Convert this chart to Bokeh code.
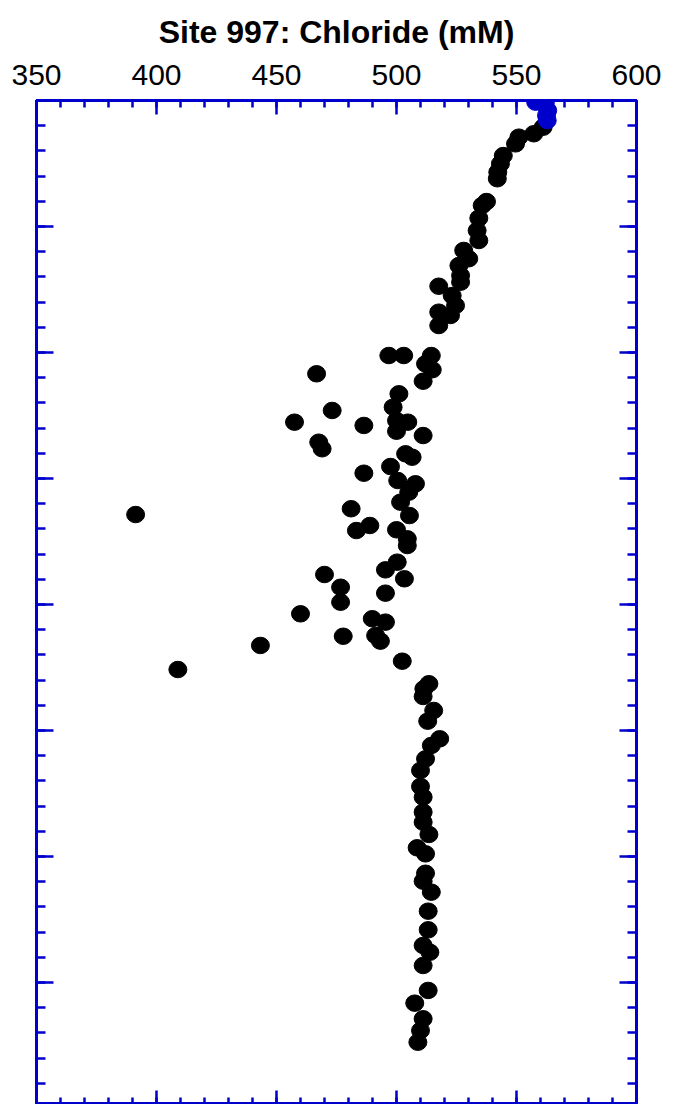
from bokeh.plotting import figure
from bokeh.models import (Range1d, LinearAxis, FixedTicker, CustomJSTickFormatter)
from bokeh.embed import file_html
from bokeh.resources import INLINE

# ---- data ----
title_text = "Site 997: Chloride (mM)"
x_ticks = [350, 400, 450, 500, 550, 600]
x_minor = list(range(350, 601, 10))
y_ticks = list(range(0, 801, 100))
y_minor = list(range(0, 801, 20))

# black points: chloride (mM) and depth (mbsf)
cl_black = [561.1, 557.2, 551.0, 549.6, 544.5, 543.3, 542.2, 542.0, 537.5, 535.7,
            534.3, 533.6, 534.3, 528.0, 530.1, 526.0, 526.7, 526.7, 517.6, 523.2,
            524.6, 517.6, 522.5, 517.6,
            496.8, 503.0, 514.5, 512.1, 514.9, 511.1, 466.7, 501.0, 498.6, 473.2,
            457.5, 486.4, 500.0, 504.7, 500.0, 511.1, 467.6, 469.0, 503.8, 506.5,
            497.5, 486.4, 500.5, 507.9, 505.1, 501.7, 505.4, 481.1, 483.3, 488.9,
            500.0, 504.5, 504.5, 500.3, 495.4, 503.3, 470.0, 476.7, 476.7, 495.4,
            460.0, 489.9, 495.4, 477.8, 491.3, 493.3, 443.3, 408.9, 502.4, 391.3,
            513.5, 511.4, 511.1, 515.5, 513.0, 518.0, 514.5, 512.1, 510.0, 510.0,
            511.1, 511.1, 511.1, 513.5, 508.6, 512.1, 512.1, 511.1, 514.5, 513.2,
            513.2, 511.1, 513.9, 511.1, 513.2, 507.6, 511.1, 510.0, 508.9]
depth_black = [21.2, 26.4, 29.1, 34.4, 43.7, 50.2, 56.9, 62.1, 80.2, 83.3,
               93.4, 103.2, 111.1, 119.0, 125.6, 131.0, 138.9, 144.2, 147.4, 154.8,
               162.7, 168.0, 170.6, 178.6,
               202.4, 202.4, 202.4, 209.0, 213.7, 222.8, 216.9, 232.8, 243.4, 246.0,
               255.3, 257.9, 254.0, 255.3, 262.5, 265.9, 271.2, 276.4, 280.4, 283.1,
               290.5, 295.8, 301.6, 304.2, 310.9, 318.8, 329.4, 324.0, 341.3, 337.3,
               340.7, 347.9, 353.2, 366.4, 372.5, 379.6, 376.2, 386.3, 398.2, 391.0,
               407.4, 411.3, 414.0, 425.2, 424.6, 429.1, 432.5, 451.6, 445.0, 328.6,
               462.9, 466.9, 473.0, 484.1, 492.6, 506.6, 511.9, 522.5, 531.7, 544.4,
               552.9, 564.8, 572.8, 582.5, 593.1, 597.9, 613.3, 619.6, 628.3, 643.4,
               658.2, 670.6, 676.0, 686.5, 706.3, 716.4, 728.8, 738.1, 747.4]

# blue points (uppermost samples)
cl_blue = [558.0, 562.0, 563.0, 562.5, 562.8]
depth_blue = [1.3, 1.8, 7.9, 11.9, 15.9]

BLUE = "#0000cc"
FONT = "Liberation Sans"

FRAME_H = 1004
p = figure(frame_width=600, frame_height=FRAME_H,
           x_range=Range1d(350, 600), y_range=Range1d(FRAME_H / 1.26, 0),
           x_axis_location="above", y_axis_location="left",
           output_backend="svg", toolbar_location=None,
           min_border_left=36, min_border_right=30,
           min_border_top=100, min_border_bottom=0,
           background_fill_color="white", border_fill_color="white")

p.title.text = title_text
p.title.align = "center"
p.title.vertical_align = "top"
p.title.text_font = FONT
p.title.text_font_size = "32px"
p.title.text_font_style = "bold"
p.title.text_color = "black"
p.title.standoff = 19

p.xgrid.visible = False
p.ygrid.visible = False
p.outline_line_color = BLUE
p.outline_line_width = 3

blank = CustomJSTickFormatter(code="return ''")

def style_axis(ax, major, minor, tick_in, minor_in, labels):
    ax.ticker = FixedTicker(ticks=major, minor_ticks=minor)
    ax.axis_line_color = BLUE
    ax.axis_line_width = 3
    ax.major_tick_line_color = BLUE
    ax.major_tick_line_width = 2.5
    ax.minor_tick_line_color = BLUE
    ax.minor_tick_line_width = 2.5
    ax.major_tick_in = tick_in
    ax.major_tick_out = 0
    ax.minor_tick_in = minor_in
    ax.minor_tick_out = 0
    if labels:
        ax.major_label_text_font = FONT
        ax.major_label_text_font_size = "30px"
        ax.major_label_text_color = "black"
        ax.major_label_standoff = 16
    else:
        ax.formatter = blank
        ax.major_label_standoff = 0
        ax.major_label_text_font_size = "1px"

style_axis(p.xaxis[0], x_ticks, x_minor, 14, 7, True)
style_axis(p.yaxis[0], y_ticks, y_minor, 17, 9, False)

bottom = LinearAxis()
style_axis(bottom, x_ticks, x_minor, 14, 7, False)
p.add_layout(bottom, "below")

right = LinearAxis()
style_axis(right, y_ticks, y_minor, 17, 9, False)
p.add_layout(right, "right")

p.ellipse(x=cl_black, y=depth_black, width=18, height=16.5,
          width_units="screen", height_units="screen",
          fill_color="black", line_color="black")
p.ellipse(x=cl_blue, y=depth_blue, width=18, height=16.5,
          width_units="screen", height_units="screen",
          fill_color=BLUE, line_color=BLUE)

open("out.html", "w").write(file_html(p, INLINE))
